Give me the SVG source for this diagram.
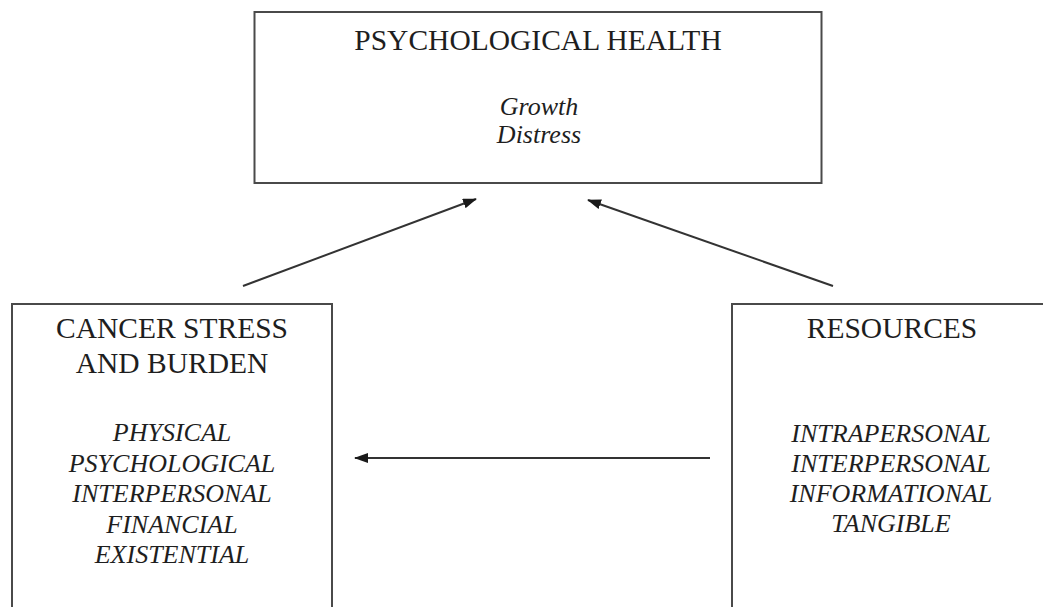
<svg xmlns="http://www.w3.org/2000/svg" width="1043" height="607" viewBox="0 0 1043 607">
  <defs>
    <style>
      .box { fill: #ffffff; stroke: #4a4a4a; stroke-width: 2; }
      .title { font-family: "Liberation Serif", "Times New Roman", serif; font-size: 29.5px; fill: #1e1e1e; text-anchor: middle; }
      .item { font-family: "Liberation Serif", "Times New Roman", serif; font-size: 26px; font-style: italic; fill: #1e1e1e; text-anchor: middle; }
      .conn { fill: none; stroke: #333333; stroke-width: 2; marker-end: url(#arrow); }
    </style>
    <marker id="arrow" viewBox="0 0 14 10" refX="13" refY="5" markerWidth="14" markerHeight="10" markerUnits="userSpaceOnUse" orient="auto">
      <path d="M0,0 L14,5 L0,10 Z" fill="#1a1a1a"/>
    </marker>
  </defs>
  <rect width="1043" height="607" fill="#ffffff"/>

  <g id="node-psychological-health">
    <rect class="box" x="254.5" y="12" width="567" height="171"/>
    <text class="title" x="538" y="50">PSYCHOLOGICAL HEALTH</text>
    <text class="item" x="539" y="115">Growth</text>
    <text class="item" x="539" y="143">Distress</text>
  </g>

  <g id="node-cancer-stress">
    <rect class="box" x="12" y="304" width="320" height="330"/>
    <text class="title" x="172" y="338">CANCER STRESS</text>
    <text class="title" x="172" y="373">AND BURDEN</text>
    <text class="item" x="172" y="441">PHYSICAL</text>
    <text class="item" x="172" y="472">PSYCHOLOGICAL</text>
    <text class="item" x="172" y="502">INTERPERSONAL</text>
    <text class="item" x="172" y="533">FINANCIAL</text>
    <text class="item" x="172" y="563">EXISTENTIAL</text>
  </g>

  <g id="node-resources">
    <rect class="box" x="732" y="304" width="340" height="330"/>
    <text class="title" x="892" y="338">RESOURCES</text>
    <text class="item" x="891" y="442">INTRAPERSONAL</text>
    <text class="item" x="891" y="472">INTERPERSONAL</text>
    <text class="item" x="891" y="502">INFORMATIONAL</text>
    <text class="item" x="891" y="532">TANGIBLE</text>
  </g>

  <g id="connectors">
    <line class="conn" x1="243" y1="286" x2="476" y2="199"/>
    <line class="conn" x1="833" y1="286" x2="588" y2="200"/>
    <line class="conn" x1="710" y1="458" x2="355" y2="458"/>
  </g>
</svg>
